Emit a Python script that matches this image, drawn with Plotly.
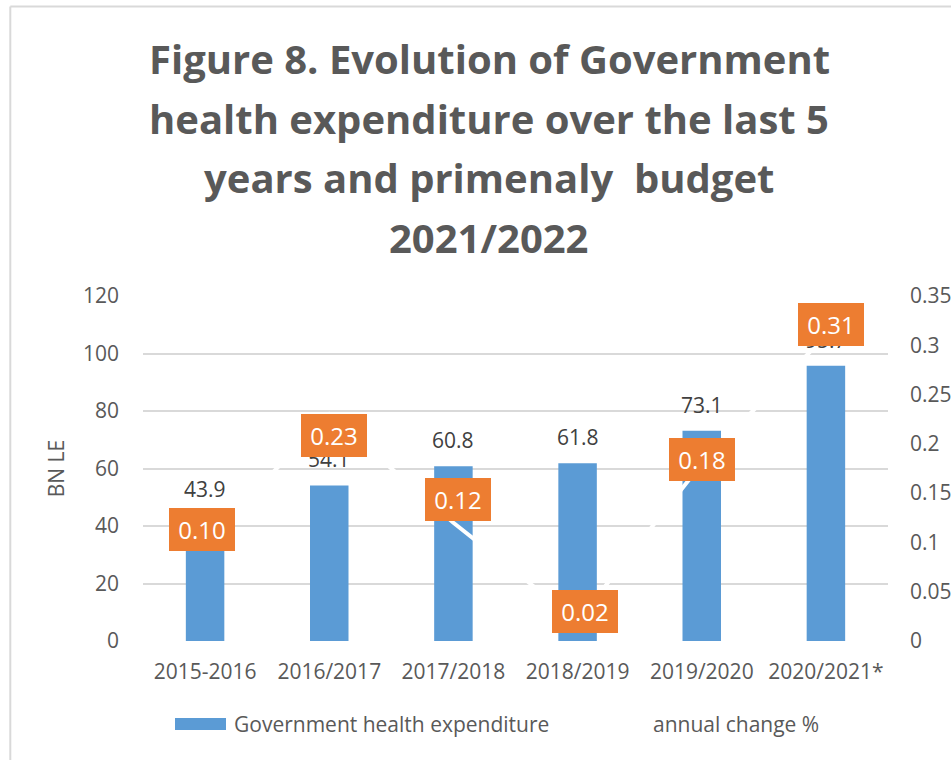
import plotly.graph_objects as go

# Fiscal years and series values
years = ["2015-2016", "2016/2017", "2017/2018", "2018/2019", "2019/2020", "2020/2021*"]
expenditure = [43.9, 54.1, 60.8, 61.8, 73.1, 95.7]
annual_change = [0.10, 0.23, 0.12, 0.02, 0.18, 0.31]

title_lines = [
    "Figure 8. Evolution of Government",
    "health expenditure over the last 5",
    "years and primenaly&nbsp; budget",
    "2021/2022",
]

FONT = "Open Sans"
GREY = "#595959"
BLUE = "#5B9BD5"
ORANGE = "#ED7D31"
GRID = "#D9D9D9"

W, H = 951, 760
ML, MR, MT, MB = 143, 63, 296, 119
PW, PH = W - ML - MR, H - MT - MB


def px_x(x):
    return (x - ML) / PW


def px_y(y):
    return (H - MB - y) / PH


fig = go.Figure()

fig.add_trace(go.Bar(
    x=years, y=expenditure, name="Government health expenditure",
    marker=dict(color=BLUE, line=dict(width=0)),
    width=0.31, showlegend=False, hoverinfo="x+y",
))

fig.add_trace(go.Scatter(
    x=years, y=annual_change, name="annual change %", yaxis="y2",
    mode="lines", line=dict(color="white", width=4),
    showlegend=False, hoverinfo="x+y",
))

annotations = []

# title, one annotation per line
title_y = [58.5, 118, 177.5, 237]
for line, ty in zip(title_lines, title_y):
    annotations.append(dict(
        text=line, xref="paper", yref="paper", x=px_x(489), y=px_y(ty),
        xanchor="center", yanchor="middle", showarrow=False,
        font=dict(family=FONT, size=40, color=GREY, weight="bold"),
    ))

# value labels above the bars
for yr, v in zip(years, expenditure):
    annotations.append(dict(
        text=f"{v:.1f}", x=yr, y=v, xref="x", yref="y",
        yshift=26, showarrow=False, xanchor="center", yanchor="middle",
        font=dict(family=FONT, size=21, color="#404040"),
    ))

# boxed labels for the annual change series
box_dx = [-3, 5, 5, 7, 0, 5]
box_dy = [13, -21, 23, 10, 4, 11]
for yr, c, dx, dy in zip(years, annual_change, box_dx, box_dy):
    annotations.append(dict(
        text=f"{c:.2f}", x=yr, y=c, xref="x", yref="y2",
        xshift=dx, yshift=dy, showarrow=False,
        xanchor="center", yanchor="middle",
        bgcolor=ORANGE, borderwidth=0, borderpad=4, width=58, height=35,
        font=dict(family=FONT, size=24, color="white"),
    ))

# legend entries
annotations.append(dict(
    text="Government health expenditure", xref="paper", yref="paper",
    x=px_x(232), y=px_y(724), xanchor="left", yanchor="middle", showarrow=False,
    font=dict(family=FONT, size=21, color=GREY),
))
annotations.append(dict(
    text="annual change %", xref="paper", yref="paper",
    x=px_x(651), y=px_y(724), xanchor="left", yanchor="middle", showarrow=False,
    font=dict(family=FONT, size=21, color=GREY),
))

shapes = [
    # legend swatch
    dict(type="rect", xref="paper", yref="paper",
         x0=px_x(175), x1=px_x(226), y0=px_y(718), y1=px_y(730),
         fillcolor=BLUE, line=dict(width=0)),
    # chart frame
    dict(type="line", xref="paper", yref="paper",
         x0=px_x(10.3), x1=px_x(W + 2), y0=px_y(6.6), y1=px_y(6.6),
         line=dict(color=GRID, width=2)),
    dict(type="line", xref="paper", yref="paper",
         x0=px_x(10.3), x1=px_x(10.3), y0=px_y(6.6), y1=px_y(H + 2),
         line=dict(color=GRID, width=2)),
]

fig.update_layout(
    width=W, height=H,
    margin=dict(l=ML, r=MR, t=MT, b=MB, pad=0, autoexpand=False),
    paper_bgcolor="white", plot_bgcolor="white",
    font=dict(family=FONT, size=21, color=GREY),
    bargap=0.69,
    showlegend=False,
    annotations=annotations,
    shapes=shapes,
    xaxis=dict(
        type="category", showgrid=False, showline=False, zeroline=False,
        ticks="", tickfont=dict(family=FONT, size=21, color=GREY),
        ticklabelstandoff=16, automargin=False,
    ),
    yaxis=dict(
        range=[0, 120], dtick=20, showgrid=True, gridcolor=GRID, gridwidth=2,
        zeroline=False, showline=False, ticks="",
        tickfont=dict(family=FONT, size=21, color=GREY),
        ticklabelstandoff=23, automargin=False,
        title=dict(text="BN LE", standoff=12,
                   font=dict(family=FONT, size=21, color=GREY)),
    ),
    yaxis2=dict(
        range=[0, 0.35], dtick=0.05, overlaying="y", side="right",
        showgrid=False, zeroline=False, showline=False, ticks="",
        tickfont=dict(family=FONT, size=21, color=GREY),
        ticklabelstandoff=21, automargin=False,
    ),
)

fig.write_html("out.html")
